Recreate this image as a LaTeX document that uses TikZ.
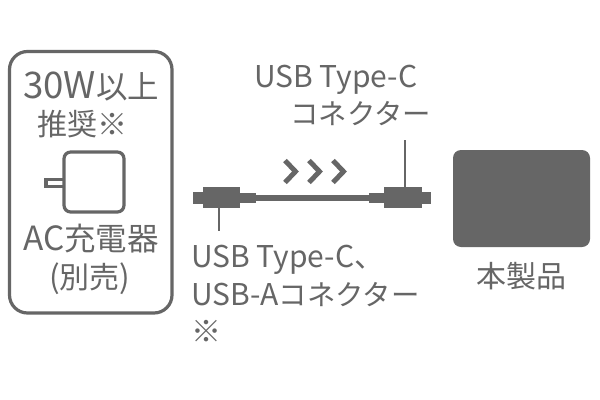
\documentclass[tikz,border=0pt]{standalone}
\usepackage{fontspec}
\setmainfont{Noto Sans CJK JP}
\definecolor{ink}{HTML}{666666}
\newcommand{\szA}[1]{{\fontsize{27.5}{30}\selectfont #1}}
\newcommand{\szB}[1]{{\fontsize{25}{30}\selectfont #1}}
\newcommand{\szC}[1]{{\fontsize{23.6}{30}\selectfont #1}}
\newcommand{\szK}[1]{{\fontsize{21.3}{26}\selectfont #1}}
\tikzset{
 lab/.style={inner sep=0pt,text=ink,font=\fontsize{22.5}{26}\selectfont,anchor=base west},
 outline/.style={ink,line width=2.4pt},
 leader/.style={ink,line width=1.1pt},
}
\begin{document}
\begin{tikzpicture}[x=0.75pt,y=-0.75pt]
\useasboundingbox[fill=white] (0,0) rectangle (600,400);
% charger frame
\draw[outline,rounded corners=13.5pt] (9.5,51.5) rectangle (172,313);
\node[lab] (t1) at (23,98) {\szA{30W}\szC{以上}};
\node[lab] (t2) at (37,135) {推奨※};
\node[lab] (t3) at (23,250) {\szB{AC}\szC{充電器}};
\node[lab] (t4) at (49,288) {\szC{(}別売\szC{)}};
% charger
\draw[outline,rounded corners=5pt] (64,152) rectangle (124,212);
\draw[outline] (63,179.5) -- (46,179.5) -- (46,186.5) -- (63,186.5);
% cable
\fill[ink] (250,195) rectangle (375,201);
\fill[ink] (193,192) rectangle (203,204);
\fill[ink] (203,187) rectangle (240,208);
\fill[ink] (240,193) rectangle (256,203);
\fill[ink] (369,193) rectangle (384,203);
\fill[ink] (384,187) rectangle (422,208);
\fill[ink] (422,192) rectangle (431,204);
\coordinate (lb) at (219,208);
\coordinate (le) at (219,231);
\coordinate (rb) at (405,187);
\coordinate (re) at (405,140);
\draw[leader] (lb) -- (le);
\draw[leader] (rb) -- (re);
% chevrons
\foreach \x in {0,24,48}
  \draw[ink,line width=3.7pt] (285+\x,160.5) -- (295.5+\x,171.5) -- (285+\x,182.5);
% product
\fill[ink,rounded corners=6pt] (453,150) rectangle (590,247);
% labels
\node[lab] (t5) at (254,87) {USB Type-C};
\node[lab] (t6) at (290,124) {\szK{コネクター}};
\node[lab] (t7) at (191,267) {USB Type-C、};
\node[lab] (t8) at (191,305) {USB-A\szK{コネクター}};
\node[lab] (t9) at (191,342) {※};
\node[lab] (t10) at (476,287) {本製品};
\end{tikzpicture}
\end{document}
